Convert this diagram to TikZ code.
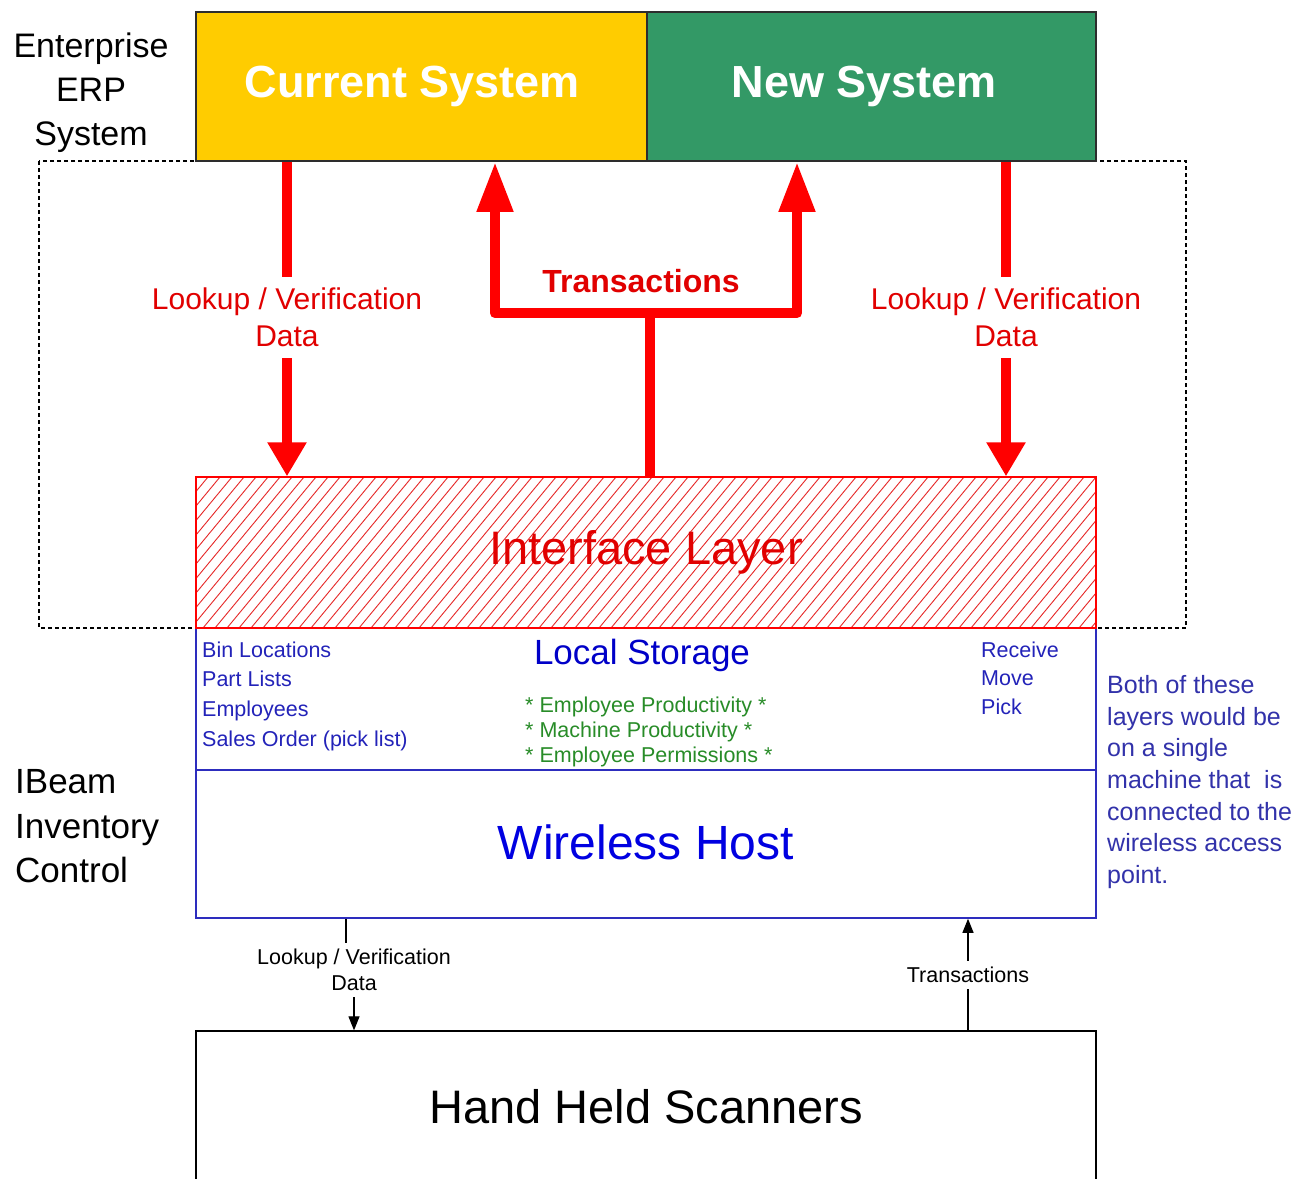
\documentclass[tikz,border=0pt]{standalone}
\usepackage{fontspec}
\setmainfont{Liberation Sans}
\usetikzlibrary{arrows.meta}
\definecolor{curY}{RGB}{255,204,0}
\definecolor{newG}{RGB}{51,153,102}
\definecolor{boxline}{RGB}{45,45,45}
\definecolor{lblue}{RGB}{35,35,185}
\definecolor{tblue}{RGB}{0,0,200}
\definecolor{whblue}{RGB}{0,0,225}
\definecolor{bordblue}{RGB}{45,45,190}
\definecolor{lgreen}{RGB}{40,140,40}
\definecolor{nblue}{RGB}{50,50,170}
\definecolor{rtext}{RGB}{225,0,0}
\definecolor{hatchred}{RGB}{230,40,40}
\newcommand{\fsz}[2]{\fontsize{#1}{#2}\selectfont}
\begin{document}
\begin{tikzpicture}[x=1pt,y=-1pt,
  sysbox/.style={draw=boxline, line width=1.5pt, inner sep=0pt, minimum height=149pt, text=white, font=\fsz{45}{54}\bfseries},
  layerbox/.style={draw=bordblue, line width=1.5pt, inner sep=0pt, minimum width=900pt},
  redline/.style={red, line width=10.5pt, line join=round},
  downtip/.style={-{Triangle[width=37pt,length=34pt]}},
  uptip/.style={-{Triangle[width=34pt,length=50pt]}},
  redlbl/.style={fill=white, text=rtext, font=\fsz{30}{37}, align=center, inner sep=0pt, minimum height=81pt},
  conn/.style={black, line width=1.1pt},
  conntip/.style={-{Triangle[width=11pt,length=14pt]}},
  smalllbl/.style={fill=white, font=\fsz{21.5}{26}, align=center, inner xsep=1pt, inner ysep=0pt},
  txt/.style={inner sep=0pt}
]
\useasboundingbox (0,0) rectangle (1297,1178);
\clip (0,0) rectangle (1297,1178);
\fill[white] (0,0) rectangle (1297,1178);

% dashed enterprise frame
\draw[black, line width=1.2pt, dash pattern=on 4pt off 3pt] (39,161) rectangle (1186,628);

% side titles
\node[txt, anchor=north, align=center, font=\fsz{34}{44}] (ent) at (91,33) {Enterprise\\ERP\\System};
\node[txt, anchor=north west, align=left, font=\fsz{35}{44.5}] (ibeam) at (15,769.5) {IBeam\\Inventory\\Control};

% ERP systems
\node[sysbox, fill=curY, minimum width=451pt] (cur) at (421.5,86.5) {Current System\rule{18pt}{0pt}};
\node[sysbox, fill=newG, minimum width=449pt] (new) at (871.5,86.5) {New System\rule{14pt}{0pt}};

% local storage and wireless host
\node[layerbox, minimum height=142pt] (ls) at (646,699) {};
\node[layerbox, minimum height=148pt, text=whblue, font=\fsz{48}{56}] (wh) at (646,844) {\raisebox{4pt}{Wireless Host}};

% hatch of interface layer
\begin{scope}
  \clip (196,477) rectangle (1096,628);
  \foreach \i in {0,...,90} {
    \draw[hatchred, line width=0.9pt] (196+12*\i-125,628) -- ++(125,-151);
  }
\end{scope}
\node[draw=red, line width=1.3pt, minimum width=900pt, minimum height=151pt, inner sep=0pt, text=rtext, font=\fsz{47}{54}] (intf) at (646,552.5) {Interface Layer};

% hand held scanners
\node[draw=black, line width=1.3pt, minimum width=900pt, minimum height=156pt, inner sep=0pt, font=\fsz{47}{54}] (hhs) at (646,1109) {\raisebox{5pt}{Hand Held Scanners}};

% local storage texts
\node[txt, anchor=north west, align=left, text=lblue, font=\fsz{21.5}{29.6}] (lsl) at (202,641.5) {Bin Locations\\Part Lists\\Employees\\Sales Order (pick list)};
\node[txt, anchor=base, text=tblue, font=\fsz{35}{40}] (lst) at (642,664.5) {Local Storage};
\node[txt, anchor=north west, align=left, text=lgreen, font=\fsz{21.5}{25}] (lsg) at (525,696.5) {* Employee Productivity *\\* Machine Productivity *\\* Employee Permissions *};
\node[txt, anchor=north west, align=left, text=lblue, font=\fsz{21.5}{28.5}] (lsr) at (981,641.5) {Receive\\Move\\Pick};

% note
\node[txt, anchor=north west, align=left, text=nblue, font=\fsz{25}{31.7}] (note) at (1107,675) {Both of these\\layers would be\\on a single\\machine that\ \ is\\connected to the\\wireless access\\point.};

% red connectors
\coordinate (xL) at (287,0);
\coordinate (xR) at (1006,0);
\coordinate (xTL) at (495,0);
\coordinate (xTR) at (797,0);
\coordinate (tj) at (650,313);

\draw[redline, downtip] (cur.south -| xL) -- node[redlbl, pos=0.495] (lblL) {Lookup / Verification\\Data} (intf.north -| xL);
\draw[redline, downtip] (new.south -| xR) -- node[redlbl, pos=0.495] (lblR) {Lookup / Verification\\Data} (intf.north -| xR);

\draw[redline] (intf.north -| tj) -- (tj);
\draw[redline, uptip] (tj) -| (cur.south -| xTL);
\draw[redline, uptip] (tj) -| (new.south -| xTR);
\node[txt, anchor=base, text=rtext, font=\fsz{32}{38}\bfseries] (trans) at (641,292.5) {Transactions};

% scanner connectors
\coordinate (bl1) at (346,0);
\coordinate (bl2) at (354,0);
\coordinate (br) at (968,0);
\coordinate (bjog) at (346,970);
\draw[conn, conntip] (wh.south -| bl1) -- (bjog) -| (hhs.north -| bl2);
\node[smalllbl, minimum height=54pt] (lblB) at (354,970) {Lookup / Verification\\Data};
\draw[conn, conntip] (hhs.north -| br) -- node[smalllbl, pos=0.5, minimum height=28pt] (lblT) {Transactions} (wh.south -| br);
\end{tikzpicture}
\end{document}
